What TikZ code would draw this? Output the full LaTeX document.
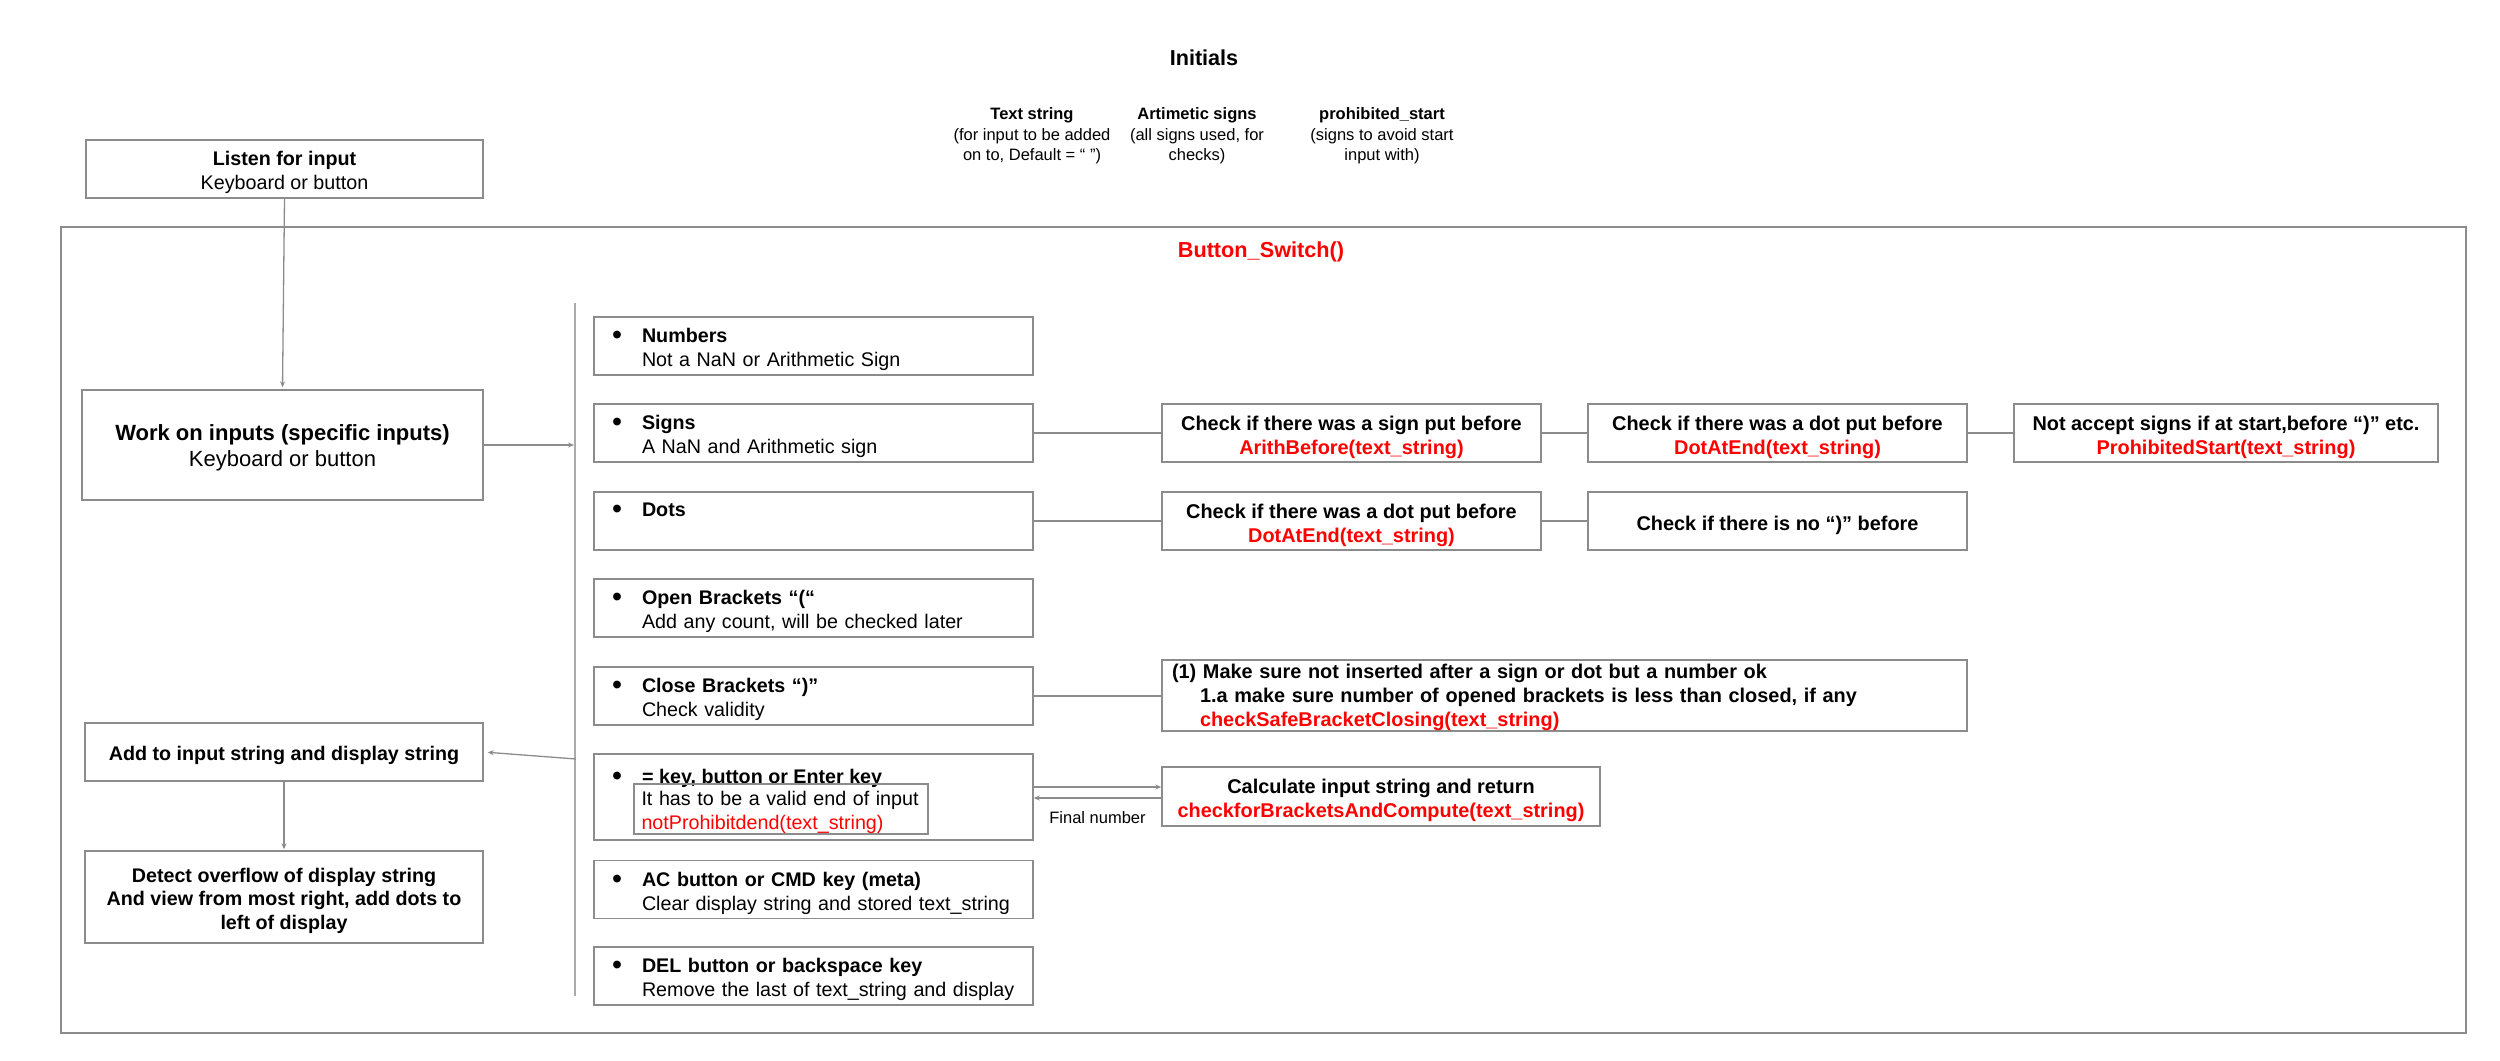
\documentclass[tikz,border=0pt]{standalone}
\usepackage{fontspec}
\setmainfont{Liberation Sans}
\usetikzlibrary{arrows.meta,calc}
\definecolor{boxgray}{HTML}{8C8C8C}
\definecolor{bargray}{HTML}{ABABAB}
\definecolor{fred}{HTML}{FF0000}
\newcommand{\ts}{\rule{0pt}{21.7pt}}
\newcommand{\tsc}{\rule{0pt}{23pt}}
\newcommand{\bdot}{\raisebox{-0.11em}{\scalebox{1.45}{•}}}
\newcommand{\bitem}[2]{\ts\hspace*{18pt}\makebox[30pt][l]{\bdot}\textbf{#1}\\\hspace*{48pt}#2}
\begin{document}
\begin{tikzpicture}[x=1pt,y=-1pt,
  box/.style={draw=boxgray, line width=1.4pt, inner sep=0pt, align=center, text=black},
  std/.style={font={\fontsize{19.7}{24}\selectfont}},
  bbox/.style={box, std, minimum width=439pt, minimum height=58pt, text width=439pt, align=left},
  ck/.style={box, minimum width=379pt, minimum height=58pt, font={\bfseries\fontsize{19.9}{24}\selectfont}},
  ini/.style={align=center, inner sep=0pt, font={\fontsize{16.5}{20.3}\selectfont}},
  conn/.style={draw=boxgray, line width=1.3pt},
  arr/.style={conn, -{Stealth[length=6pt,width=5pt]}},
  bar/.style={draw=bargray, line width=1.8pt}]
\useasboundingbox (0,0) rectangle (2500,1060);
\fill[white] (0,0) rectangle (2500,1060);

% Initials
\node[inner sep=0pt, font={\bfseries\fontsize{21.6}{26}\selectfont}] (init) at (1204,58) {Initials};
\node[ini] (tstr) at (1032,136) {\textbf{Text string}\\(for input to be added\\on to, Default = “ ”)};
\node[ini] (asig) at (1197,136) {\textbf{Artimetic signs}\\(all signs used, for\\checks)};
\node[ini] (pstart) at (1382,136) {\textbf{prohibited\_start}\\(signs to avoid start\\input with)};

% outer frame
\node[box, minimum width=2405pt, minimum height=806pt] (outer) at (1263.5,630) {};
\node[inner sep=0pt, text=fred, font={\bfseries\fontsize{21.7}{26}\selectfont}] (bsw) at (1261,252) {Button\_Switch()};

% left column
\node[box, std, minimum width=397pt, minimum height=58pt] (listen) at (284.5,169) {\ts\textbf{Listen for input}\\Keyboard or button};
\node[box, minimum width=401pt, minimum height=110pt, font={\fontsize{22}{26.5}\selectfont}] (work) at (282.5,445) {\ts\textbf{Work on inputs (specific inputs)}\\Keyboard or button};
\node[box, minimum width=398pt, minimum height=58pt, font={\bfseries\fontsize{19.7}{24}\selectfont}] (add) at (284,752) {\ts Add to input string and display string};
\node[box, minimum width=398pt, minimum height=92pt, font={\bfseries\fontsize{19.7}{23.5}\selectfont}] (detect) at (284,897) {\ts Detect overflow of display string\\And view from most right, add dots to\\left of display};

% bar
\coordinate (bartop) at (575,303);
\coordinate (barbot) at (575,996);
\coordinate (barwork) at (574,445);
\coordinate (baradd) at (576,759);
\draw[bar] (bartop) -- (barbot);

% bullet boxes
\node[bbox] (numbers) at (813.5,346) {\bitem{Numbers}{Not a NaN or Arithmetic Sign}};
\node[bbox] (signs) at (813.5,433) {\bitem{Signs}{A NaN and Arithmetic sign}};
\node[bbox] (dots) at (813.5,521) {\bitem{Dots}{\strut}};
\node[bbox] (open) at (813.5,608) {\bitem{Open Brackets “(“}{Add any count, will be checked later}};
\node[bbox] (close) at (813.5,696) {\bitem{Close Brackets “)”}{Check validity}};
\node[box, minimum width=439pt, minimum height=86pt] (eq) at (813.5,797) {};
\node[anchor=base west, inner sep=0pt, std] (eqtitle) at (612,783) {\makebox[30pt][l]{\bdot}\textbf{= key, button or Enter key}};
\node[box, std, minimum width=294pt, minimum height=44pt, text width=294pt, align=left] (eqin) at (781,809) {\ts\hspace*{7.5pt}It has to be a valid end of input\\\hspace*{7.5pt}\textcolor{fred}{notProhibitdend(text\_string)}};
\node[bbox] (ac) at (813.5,889.5) {\bitem{AC button or CMD key (meta)}{Clear display string and stored text\_string}};
\node[bbox] (del) at (813.5,976) {\bitem{DEL button or backspace key}{Remove the last of text\_string and display}};

% check boxes
\node[ck] (chk1) at (1351.5,433) {\tsc Check if there was a sign put before\\\textcolor{fred}{ArithBefore(text\_string)}};
\node[ck] (chk2) at (1777.5,433) {\tsc Check if there was a dot put before\\\textcolor{fred}{DotAtEnd(text\_string)}};
\node[ck, minimum width=424pt] (prohib) at (2226,433) {\tsc Not accept signs if at start,before “)” etc.\\\textcolor{fred}{ProhibitedStart(text\_string)}};
\node[ck] (dchk1) at (1351.5,521) {\tsc Check if there was a dot put before\\\textcolor{fred}{DotAtEnd(text\_string)}};
\node[ck] (dchk2) at (1777.5,521) {\tsc Check if there is no “)” before};
\node[box, minimum width=805pt, minimum height=69pt, text width=805pt, align=left, font={\bfseries\fontsize{19.9}{24}\selectfont}] (clchk) at (1564.5,695.5) {\rule{0pt}{19pt}\hspace*{10pt}(1) Make sure not inserted after a sign or dot but a number ok\\\hspace*{38pt}1.a make sure number of opened brackets is less than closed, if any\\\hspace*{38pt}\textcolor{fred}{checkSafeBracketClosing(text\_string)}};
\node[box, minimum width=438pt, minimum height=59pt, font={\bfseries\fontsize{19.9}{24}\selectfont}] (calc) at (1381,796.5) {\ts Calculate input string and return\\\textcolor{fred}{checkforBracketsAndCompute(text\_string)}};
\node[inner sep=0pt, font={\fontsize{16.5}{20}\selectfont}] (finalnum) at (1097.5,818) {Final number};

% connectors
\draw[arr, shorten >=2pt] (listen.south) -- (work.north);
\draw[arr] (work.east) -- (barwork);
\draw[arr, shorten >=4pt] (baradd) -- (add.east);
\draw[arr, shorten >=1pt] (add.south) -- (detect.north);
\draw[conn] (signs.east) -- (chk1.west);
\draw[conn] (chk1.east) -- (chk2.west);
\draw[conn] (chk2.east) -- (prohib.west);
\draw[conn] (dots.east) -- (dchk1.west);
\draw[conn] (dchk1.east) -- (dchk2.west);
\draw[conn] (close.east) -- (close.east -| clchk.west);
\draw[arr] ($(eq.east)+(0,-10)$) -- ($(eq.east -| calc.west)+(0,-10)$);
\draw[arr] ($(calc.west)+(0,1.5)$) -- ($(calc.west -| eq.east)+(0,1.5)$);
\end{tikzpicture}
\end{document}
